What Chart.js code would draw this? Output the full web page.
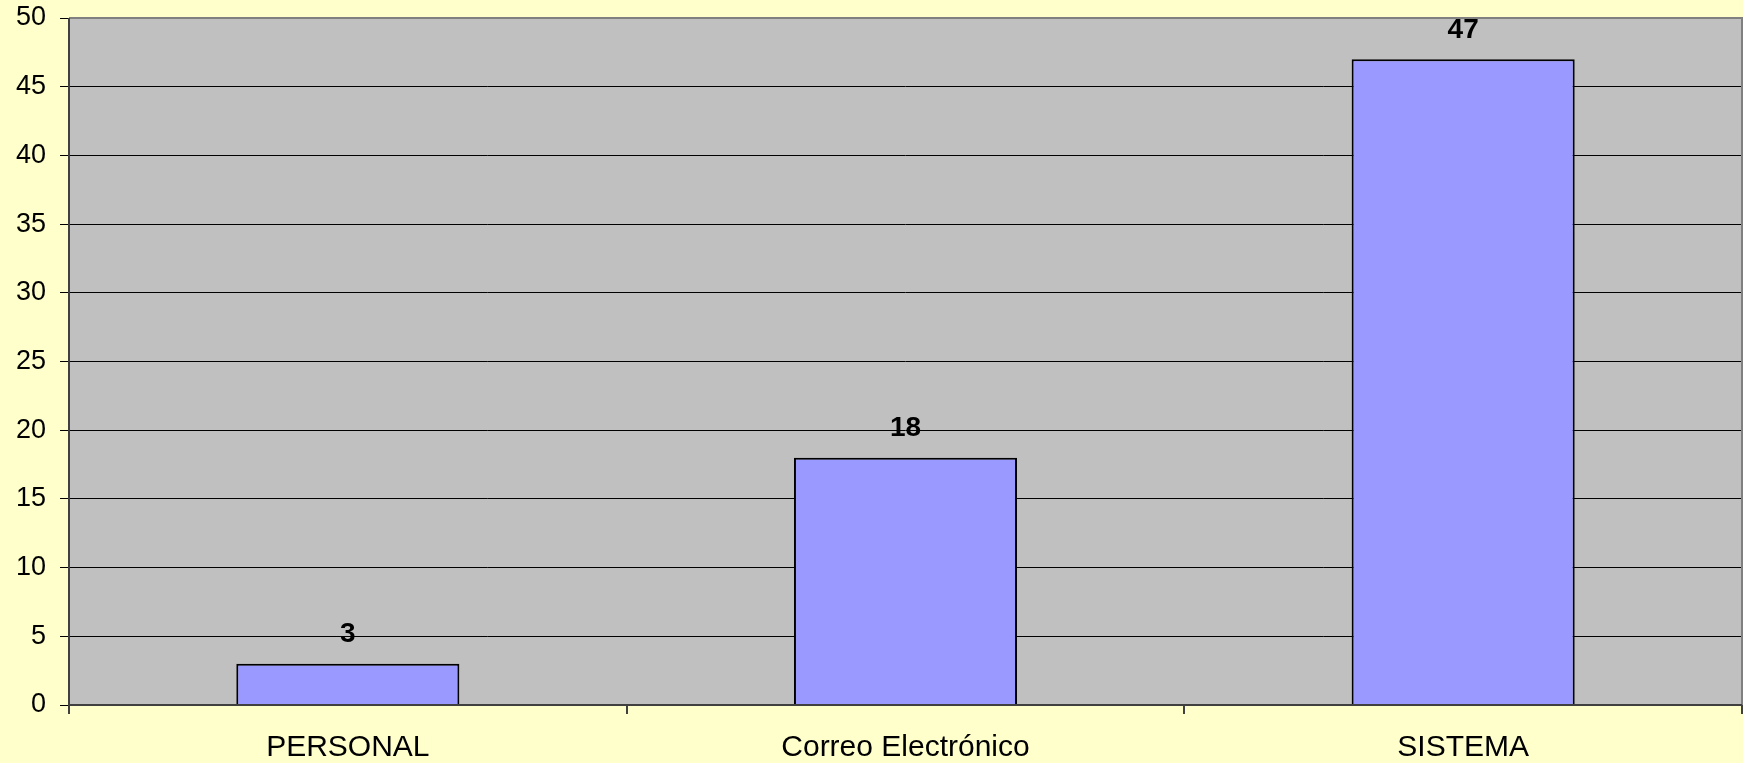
<!DOCTYPE html>
<html>
<head>
<meta charset="utf-8">
<script src="https://cdn.jsdelivr.net/npm/chart.js@4.4.1/dist/chart.umd.min.js"></script>
<style>
html,body{margin:0;padding:0;background:#FFFFCC;}
#wrap{width:1743px;height:763px;position:relative;}
</style>
</head>
<body>
<div id="wrap"><canvas id="c" width="1743" height="763"></canvas></div>
<script>
const categories = ["PERSONAL", "Correo Electrónico", "SISTEMA"];
const values = [3, 18, 47];
const yMin = 0, yMax = 50, yStep = 5;

const FONT = "'Liberation Sans', Arial, sans-serif";

const plotBg = {
  id: 'plotBg',
  beforeDraw(chart) {
    const {ctx, chartArea: a} = chart;
    ctx.save();
    ctx.fillStyle = '#FFFFCC';
    ctx.fillRect(0, 0, chart.width, chart.height);
    ctx.fillStyle = '#C0C0C0';
    ctx.fillRect(a.left, a.top, a.right - a.left, a.bottom - a.top);
    ctx.restore();
  },
  afterDatasetsDraw(chart) {
    const {ctx, chartArea: a} = chart;
    ctx.save();
    ctx.strokeStyle = '#808080';
    ctx.lineWidth = 2;
    ctx.beginPath();
    ctx.moveTo(a.left, a.top);
    ctx.lineTo(a.right, a.top);
    ctx.lineTo(a.right, a.bottom);
    ctx.stroke();
    ctx.strokeStyle = '#404040';
    ctx.lineWidth = 2;
    ctx.beginPath();
    ctx.moveTo(a.left, a.top);
    ctx.lineTo(a.left, a.bottom);
    ctx.lineTo(a.right, a.bottom);
    ctx.stroke();
    // data labels
    const meta = chart.getDatasetMeta(0);
    ctx.fillStyle = '#000';
    ctx.font = "bold 28px " + FONT;
    ctx.textAlign = 'center';
    ctx.textBaseline = 'middle';
    meta.data.forEach((bar, i) => {
      ctx.fillText(String(chart.data.datasets[0].data[i]), bar.x, bar.y - 29);
    });
    ctx.restore();
  }
};

new Chart(document.getElementById('c'), {
  type: 'bar',
  data: {
    labels: categories,
    datasets: [{
      data: values,
      backgroundColor: '#9999FF',
      borderColor: '#000000',
      borderWidth: 2,
      categoryPercentage: 0.4,
      barPercentage: 1.0
    }]
  },
  options: {
    responsive: false,
    animation: false,
    devicePixelRatio: 1,
    layout: {padding: {top: 18, right: 1, left: 0, bottom: 0}},
    plugins: {legend: {display: false}, tooltip: {enabled: false}},
    scales: {
      x: {
        afterFit(s) { s.height = 58; s.paddingLeft = 0; s.paddingRight = 0; },
        grid: {
          display: true,
          drawOnChartArea: false,
          drawTicks: true,
          tickLength: 9,
          color: '#404040',
          lineWidth: 2,
          offset: true
        },
        border: {display: false},
        ticks: {
          color: '#000',
          font: {family: FONT, size: 30},
          padding: 16,
          maxRotation: 0
        }
      },
      y: {
        min: yMin, max: yMax,
        afterFit(s) { s.width = 69; s.paddingTop = 0; s.paddingBottom = 0; },
        grid: {
          color: '#000000',
          lineWidth: 1,
          drawTicks: true,
          tickLength: 9
        },
        border: {display: false},
        ticks: {
          stepSize: yStep,
          color: '#000',
          font: {family: FONT, size: 27},
          padding: 14
        }
      }
    }
  },
  plugins: [plotBg]
});
</script>
</body>
</html>
